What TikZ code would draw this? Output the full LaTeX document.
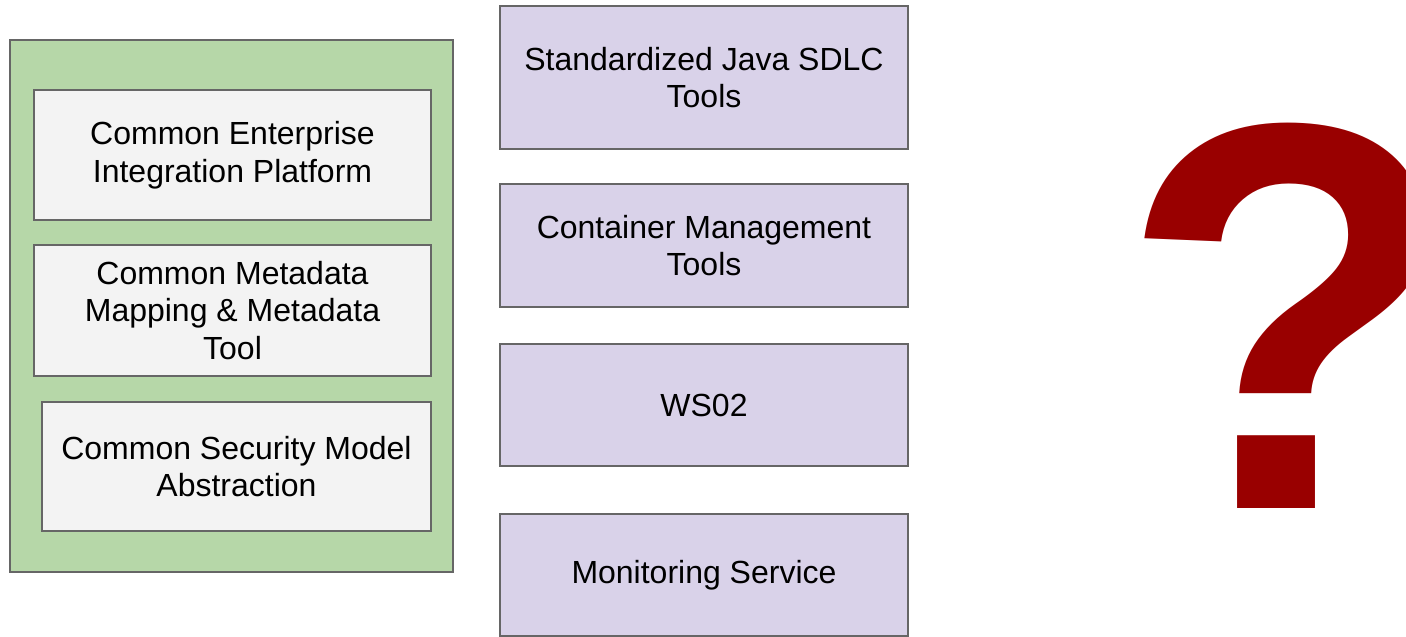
\documentclass[tikz,border=0pt]{standalone}
\usepackage{fontspec}
\setmainfont{Liberation Sans}
\definecolor{outergreen}{HTML}{B6D7A8}
\definecolor{innergray}{HTML}{F3F3F3}
\definecolor{toolpurple}{HTML}{D9D2E9}
\definecolor{edgegray}{HTML}{666666}
\definecolor{qred}{HTML}{990000}
\begin{document}
\begin{tikzpicture}[x=1pt,y=-1pt,
  box/.style={draw=edgegray,line width=2.4pt,inner sep=0pt,align=center,
    font=\fontsize{32}{37.5}\selectfont},
  greenbox/.style={box,fill=outergreen},
  graybox/.style={box,fill=innergray},
  purplebox/.style={box,fill=toolpurple}]
\useasboundingbox (0,0) rectangle (1406,637);
% left group
\node[greenbox,minimum width=443pt,minimum height=532pt] (grp) at (231.5,306) {};
\node[graybox,minimum width=397pt,minimum height=130pt] (cei) at (232.5,155)
  {Common Enterprise\\Integration Platform};
\node[graybox,minimum width=397pt,minimum height=131pt] (cmm) at (232.5,310.5)
  {Common Metadata\\Mapping \& Metadata\\Tool};
\node[graybox,minimum width=389pt,minimum height=129pt] (csm) at (236.5,466.5)
  {Common Security Model\\Abstraction};
% right column
\node[purplebox,minimum width=408pt,minimum height=143pt] (sdlc) at (704,77.5)
  {Standardized Java SDLC\\Tools};
\node[purplebox,minimum width=408pt,minimum height=123pt] (cmt) at (704,245.5)
  {Container Management\\Tools};
\node[purplebox,minimum width=408pt,minimum height=122pt] (ws) at (704,405)
  {WS02};
\node[purplebox,minimum width=408pt,minimum height=122pt] (mon) at (704,575)
  {Monitoring Service};
% question mark
\node[inner sep=0pt,anchor=base west,text=qred,
  font=\fontsize{552}{552}\selectfont\bfseries] (q) at (1119,508) {?};
\end{tikzpicture}
\end{document}
